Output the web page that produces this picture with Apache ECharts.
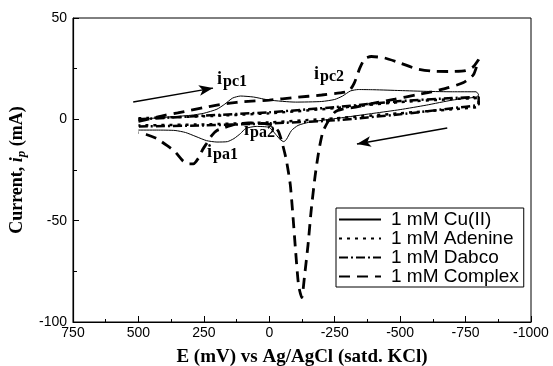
<!DOCTYPE html>
<html>
<head>
<meta charset="utf-8">
<script src="https://cdn.jsdelivr.net/npm/echarts@6/dist/echarts.min.js"></script>
<style>
  html, body { margin: 0; padding: 0; background: #fff; }
  #chart { width: 553px; height: 366px; }
</style>
</head>
<body>
<div id="chart"></div>
<script>
// potential (mV) vs current (mA), each scan 500 -> -800 -> 500
const cuData = [
  [500, 0], [400, 1], [300, 2], [250, 3], [200, 5], [170, 7.5], [140, 10.5], [110, 11.5],
  [60, 11], [0, 9.5], [-100, 8.5], [-200, 8.8], [-250, 9.8], [-280, 11.5], [-310, 14],
  [-340, 14.7], [-400, 14.6], [-500, 14.2], [-600, 13.8], [-700, 13.6], [-790, 13.6], [-800, 12],
  [-790, 11], [-700, 9.5], [-600, 7], [-500, 4.8], [-400, 3], [-300, 1.2], [-230, 0],
  [-150, -1.5], [-110, -3], [-85, -5.5], [-65, -10], [-55, -11], [-42, -10], [-25, -7.5],
  [0, -4], [50, -3.5], [90, -4.5], [110, -7], [135, -9.5], [160, -11], [200, -11.2],
  [240, -10.5], [280, -8.5], [320, -6.5], [360, -5.5], [430, -5.3], [500, -5.3]
];
const adenineData = [
  [500, 0.5], [250, 1.5], [0, 3], [-250, 5.5], [-500, 8.5], [-700, 10], [-800, 10.5],
  [-800, 6.5], [-700, 5], [-500, 3], [-250, 0.5], [0, -1.5], [250, -2.5], [500, -3]
];
const dabcoData = [
  [500, 0], [250, 1.8], [0, 3.5], [-250, 6], [-500, 9], [-700, 10.5], [-800, 11],
  [-800, 7.5], [-700, 5.5], [-500, 2.5], [-250, -0.5], [0, -2], [250, -3], [500, -3.5]
];
const complexData = [
  [500, -1], [450, 0.5], [400, 2], [350, 3.2], [300, 4.5], [250, 5.8], [200, 7], [150, 8],
  [100, 8.7], [0, 9.5], [-100, 10.8], [-200, 12], [-270, 13], [-305, 14], [-325, 18],
  [-345, 25], [-365, 30], [-390, 31], [-440, 30.3], [-500, 27.8], [-560, 25], [-620, 23.8],
  [-690, 23.6], [-750, 24], [-780, 26], [-800, 29.5],
  [-780, 22], [-740, 18], [-680, 15.5], [-620, 13.5], [-560, 12], [-480, 10], [-400, 8],
  [-330, 6], [-280, 5], [-250, 3.5], [-225, -1], [-205, -6], [-190, -15], [-175, -28],
  [-160, -45], [-148, -62], [-135, -77], [-124, -88], [-112, -82], [-100, -64], [-90, -47],
  [-80, -32], [-65, -20], [-50, -12], [-35, -6], [-15, -3], [30, -2], [80, -1.8], [130, -2.5],
  [170, -4], [200, -5.5], [220, -8], [240, -12], [255, -15], [270, -19], [290, -22],
  [310, -22], [330, -20.5], [360, -16], [390, -13], [430, -9.5], [470, -7.5], [500, -6.5]
];
// scan direction arrows [start, end]
const arrowFwd = [[520, 8.5], [215, 15.4]];
const arrowRev = [[-680, -4.3], [-335, -12.2]];

const seriesNames = ['1 mM Cu(II)', '1 mM Adenine', '1 mM Dabco', '1 mM Complex'];
const xTicks = { min: -1000, max: 750, step: 250 };
const yTicks = { min: -100, max: 50, step: 50 };

const serif = '"Liberation Serif", "Times New Roman", serif';
const sans = '"Liberation Sans", Arial, sans-serif';

const chart = echarts.init(document.getElementById('chart'), null, { renderer: 'canvas' });

function curve(name, data, width, type) {
  return {
    name: name,
    type: 'line',
    data: data,
    symbol: 'none',
    smooth: 0.2,
    lineStyle: { color: '#000', width: width, type: type },
    itemStyle: { color: '#000' },
    animation: false
  };
}

function label(x, y, sub) {
  return [
    { type: 'text', x: x, y: y, style: { text: 'i', font: 'bold 18px ' + serif, fill: '#000' } },
    { type: 'text', x: x + 6, y: y + 4, style: { text: sub, font: 'bold 16px ' + serif, fill: '#000' } }
  ];
}

const option = {
  animation: false,
  grid: {
    left: 73, right: 22, top: 18, bottom: 44,
    show: true, borderColor: '#000', borderWidth: 1,
    outerBoundsMode: 'none'
  },
  legend: {
    data: seriesNames,
    orient: 'vertical',
    left: 336, top: 208,
    padding: [2, 5, 1, 2],
    itemGap: 0,
    itemWidth: 42,
    itemHeight: 14,
    borderColor: '#000',
    borderWidth: 1,
    backgroundColor: '#fff',
    itemStyle: { opacity: 0 },
    textStyle: { fontFamily: sans, fontSize: 19, color: '#000', lineHeight: 16, padding: [0, 0, 0, 5] }
  },
  xAxis: {
    type: 'value',
    inverse: true,
    min: xTicks.min, max: xTicks.max, interval: xTicks.step,
    name: 'E (mV) vs Ag/AgCl (satd. KCl)',
    nameLocation: 'middle',
    nameGap: 26,
    nameTextStyle: { fontFamily: serif, fontWeight: 'bold', fontSize: 19, color: '#000' },
    axisLine: { onZero: false, lineStyle: { color: '#000', width: 1.2 } },
    axisTick: { inside: true, length: 6, lineStyle: { color: '#000' } },
    minorTick: { show: true, splitNumber: 2, length: 3, lineStyle: { color: '#000' } },
    splitLine: { show: false },
    axisLabel: { fontFamily: sans, fontSize: 14, color: '#000', margin: 4, formatter: v => String(v) }
  },
  yAxis: {
    type: 'value',
    min: yTicks.min, max: yTicks.max, interval: yTicks.step,
    name: '{a|Current, }{b|i}{c|p}{a| (mA)}',
    nameLocation: 'middle',
    nameGap: 44,
    nameRotate: 90,
    nameTextStyle: {
      color: '#000',
      rich: {
        a: { fontFamily: serif, fontWeight: 'bold', fontSize: 18, color: '#000' },
        b: { fontFamily: serif, fontWeight: 'bold', fontStyle: 'italic', fontSize: 18, color: '#000' },
        c: { fontFamily: serif, fontWeight: 'bold', fontStyle: 'italic', fontSize: 13, color: '#000', padding: [8, 0, 0, 0] }
      }
    },
    axisLine: { show: true, onZero: false, lineStyle: { color: '#000', width: 1.2 } },
    axisTick: { show: true, inside: true, length: 6, lineStyle: { color: '#000' } },
    minorTick: { show: true, splitNumber: 2, length: 4, lineStyle: { color: '#000' } },
    splitLine: { show: false },
    axisLabel: { fontFamily: sans, fontSize: 14, color: '#000', margin: 6, formatter: v => String(v) }
  },
  series: [
    curve(seriesNames[0], cuData, 1, 'solid'),
    curve(seriesNames[1], adenineData, 2.5, [3, 5]),
    curve(seriesNames[2], dabcoData, 2.5, [9, 3, 2, 3]),
    curve(seriesNames[3], complexData, 2.8, [11, 7]),
    {
      type: 'line',
      data: [],
      silent: true,
      markLine: {
        silent: true,
        symbol: ['none', 'arrow'],
        symbolSize: [8, 14],
        label: { show: false },
        lineStyle: { color: '#000', width: 1.5, type: 'solid' },
        data: [
          [{ coord: arrowFwd[0] }, { coord: arrowFwd[1] }],
          [{ coord: arrowRev[0] }, { coord: arrowRev[1] }]
        ]
      }
    }
  ],
  graphic: [].concat(
    label(217, 70, 'pc1'),
    label(314, 65, 'pc2'),
    label(207, 143, 'pa1'),
    label(244, 121, 'pa2')
  )
};

chart.setOption(option);
</script>
</body>
</html>
